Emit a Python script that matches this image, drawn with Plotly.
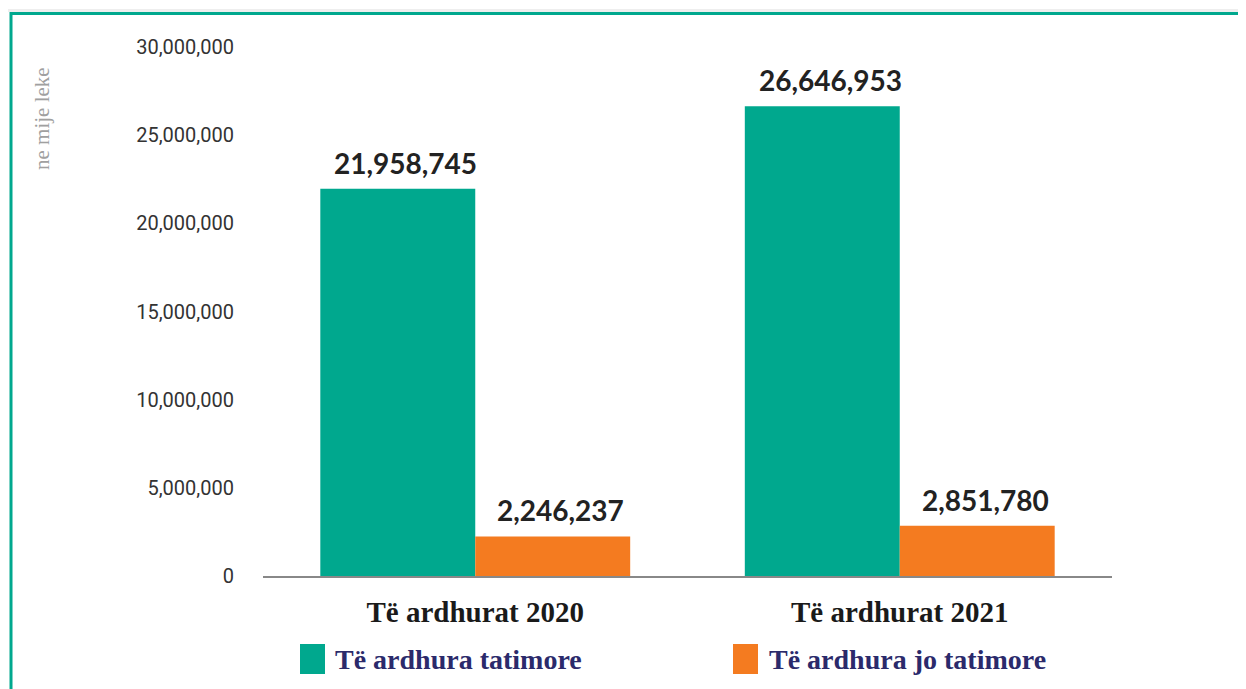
import plotly.graph_objects as go

categories = ["Të ardhurat 2020", "Të ardhurat 2021"]
series_names = ["Të ardhura tatimore", "Të ardhura jo tatimore"]
tax_revenue = [21958745, 26646953]
nontax_revenue = [2246237, 2851780]
colors = ["#00a88e", "#f47b20"]
tick_vals = [0, 5000000, 10000000, 15000000, 20000000, 25000000, 30000000]
tick_text = ["0", "5,000,000", "10,000,000", "15,000,000", "20,000,000", "25,000,000", "30,000,000"]

OFF = 8  # page body margin
W, H = 1246 - OFF, 689 - OFF
L, R, T, B = 263 - OFF, 1246 - 1112, 47 - OFF, 689 - 576
pw, ph = W - L - R, H - T - B
BAR_PX = pw / 2 * (1 - 0.27) / 2

def px(x):
    return (x - OFF - L) / pw

def py(y):
    return (H - B - (y - OFF)) / ph

fig = go.Figure()
all_series = [tax_revenue, nontax_revenue]
for name, vals, col in zip(series_names, all_series, colors):
    fig.add_trace(go.Bar(
        x=categories, y=vals, name=name, marker=dict(color=col, line=dict(width=0)),
        showlegend=False,
    ))

# value labels above bars
for j, vals in enumerate(all_series):
    for cat, v in zip(categories, vals):
        fig.add_annotation(x=cat, y=v, xref="x", yref="y", text=f"<b>{v:,}</b>",
                           showarrow=False, xanchor="center", yanchor="middle",
                           xshift=(j - 0.5) * BAR_PX + 8, yshift=26,
                           font=dict(family="Lato", size=28, color="#222222"))

fig.update_layout(
    width=W, height=H, barmode="group", bargap=0.27, bargroupgap=0,
    margin=dict(l=L, r=R, t=T, b=B),
    paper_bgcolor="white", plot_bgcolor="white",
    xaxis=dict(showgrid=False, showline=True, linecolor="#888888", linewidth=1.5,
               ticks="", tickfont=dict(family="Liberation Serif", size=29, color="#1a1a1a"),
               ticklabelstandoff=9,
               tickvals=categories, ticktext=[f"<b>{c}</b>" for c in categories]),
    yaxis=dict(range=[0, 30000000], showgrid=False, zeroline=False, showline=False,
               tickvals=tick_vals, ticktext=tick_text,
               tickfont=dict(family="Roboto", size=20, color="#333333"),
               ticklabelstandoff=28),
    font=dict(family="Roboto"),
)

# y axis title
fig.add_annotation(x=px(42), y=py(118), xref="paper", yref="paper", text="ne mije leke",
                   textangle=-90, showarrow=False, xanchor="center", yanchor="middle",
                   font=dict(family="Liberation Serif", size=21, color="#a0a0a0"))

# custom legend
leg_items = [(300, 333), (733, 767)]
for (sx, tx), name, col in zip(leg_items, series_names, colors):
    fig.add_shape(type="rect", xref="paper", yref="paper",
                  x0=px(sx), x1=px(sx + 25), y0=py(674), y1=py(644),
                  fillcolor=col, line=dict(width=0))
    fig.add_annotation(x=px(tx), y=py(659), xref="paper", yref="paper", text=f"<b>{name}</b>",
                       xanchor="left", yanchor="middle", showarrow=False,
                       font=dict(family="Liberation Serif", size=28, color="#2b2a6b"))

# frame
fig.add_shape(type="rect", xref="paper", yref="paper", x0=px(OFF), x1=px(1246), y0=py(12), y1=py(9),
              fillcolor="#eeeeee", line=dict(width=0), layer="below")
fig.add_shape(type="path", xref="paper", yref="paper",
              path=f"M {px(11)} {py(689)} L {px(11)} {py(13.5)} L {px(1246)} {py(13.5)}",
              line=dict(color="#00a88e", width=3))

fig.write_html("out.html")
